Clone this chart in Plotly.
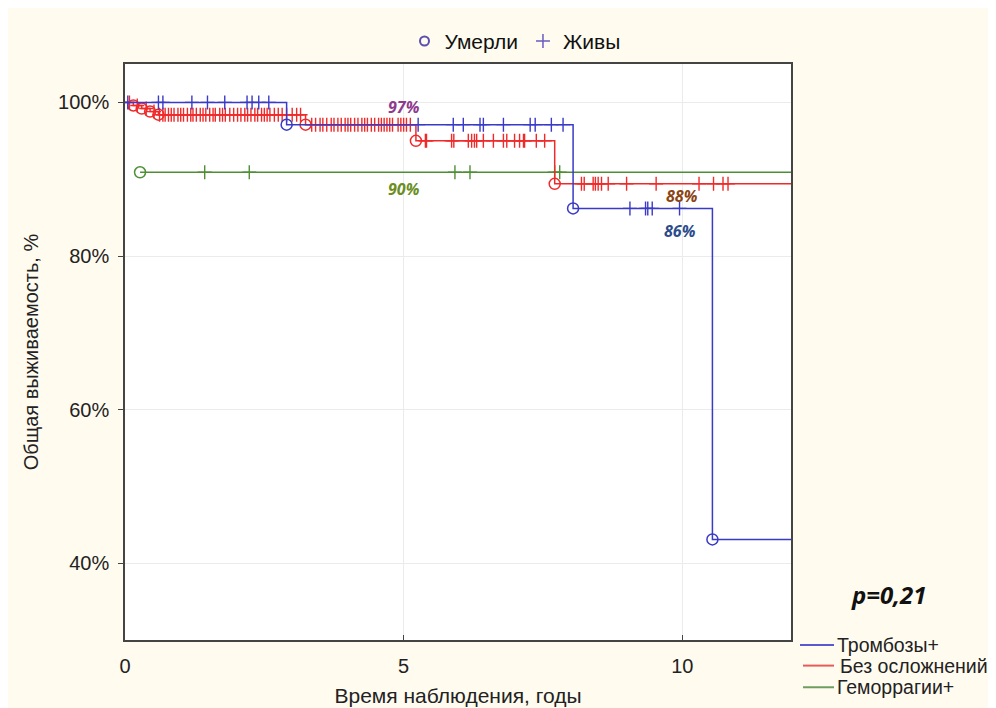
import plotly.graph_objects as go

X_END = 11.95

# ---- Тромбозы+ ----
thr_event_t = [2.90, 8.04, 10.54]
thr_event_s = [97.1, 86.2, 43.1]
thr_cens_t = [0.05, 0.60, 0.68, 1.20, 1.48, 1.79, 2.19, 2.28, 2.40, 2.58,
              5.26, 5.89, 6.07, 6.37, 6.43, 6.79, 7.27, 7.36, 7.65, 7.86,
              9.06, 9.34, 9.38, 9.46, 9.95]

# ---- Без осложнений ----
noc_event_t = [0.15, 0.30, 0.45, 0.60, 3.24, 5.22, 7.71]
noc_event_s = [99.6, 99.2, 98.8, 98.4, 97.1, 95.0, 89.4]
noc_cens_t = [0.08, 0.22, 0.38, 0.52,
              0.62, 0.68, 0.72, 0.78, 0.83, 0.88, 0.95, 1.00, 1.05, 1.12, 1.18,
              1.22, 1.28, 1.35, 1.40, 1.45, 1.52, 1.58, 1.62, 1.70, 1.75, 1.80,
              1.88, 1.95, 2.02, 2.08, 2.15, 2.20, 2.26, 2.33, 2.38, 2.45, 2.50,
              2.55, 2.60, 2.68, 2.75, 2.82, 2.90, 3.00, 3.08, 3.15,
              3.35, 3.42, 3.50, 3.55, 3.62, 3.70, 3.75, 3.82, 3.88, 3.95, 4.00,
              4.05, 4.12, 4.18, 4.25, 4.30, 4.35, 4.42, 4.48, 4.55, 4.60, 4.65,
              4.70, 4.75, 4.80, 4.90, 4.95, 5.00, 5.05, 5.12,
              5.39, 5.41, 5.86, 5.90, 6.16, 6.22, 6.27, 6.31, 6.43, 6.61, 6.79,
              6.85, 6.99, 7.08, 7.15, 7.17, 7.38, 7.53,
              8.19, 8.24, 8.40, 8.44, 8.49, 8.55, 8.67, 9.00, 9.53, 10.30,
              10.56, 10.73, 10.82]

# ---- Геморрагии+ ----
hem_event_t = [0.27]
hem_event_s = [90.9]
hem_cens_t = [1.43, 2.23, 5.92, 6.19, 7.71, 7.80]

series_names = ["Тромбозы+", "Без осложнений", "Геморрагии+"]
y_ticks = [40, 60, 80, 100]
y_tick_text = ["40%", "60%", "80%", "100%"]
x_ticks = [0, 5, 10]

BLUE = "#3A3AC8"
RED = "#F02A2A"
GREEN = "#4E8F35"
LEGEND_COLORS = ["#5A5AD0", "#E85A5A", "#6E9E5E"]

# plot-area geometry (pixels) used to place the external legend/labels
L, R, T, B = 117, 783, 56, 641
W, H = R - L, B - T


def px_x(px):
    return (px - L) / W


def px_y(py):
    return (B - py) / H


def surv_at(t, ev_t, ev_s, start):
    s = start
    for et, es in zip(ev_t, ev_s):
        if t >= et:
            s = es
    return s


def add_km(fig, name, ev_t, ev_s, cens_t, color, start_from_event=False):
    if start_from_event:
        xs = list(ev_t) + [X_END]
        ys = list(ev_s) + [ev_s[-1]]
        start = ev_s[0]
    else:
        xs = [0] + list(ev_t) + [X_END]
        ys = [100] + list(ev_s) + [ev_s[-1]]
        start = 100
    fig.add_trace(go.Scatter(x=xs, y=ys, mode="lines", name=name, line=dict(color=color, width=1.5, shape="hv"),
                             showlegend=False, hoverinfo="skip"))
    fig.add_trace(go.Scatter(x=ev_t, y=ev_s, mode="markers",
                             marker=dict(symbol="circle-open", size=11, color=color, line=dict(width=1.5, color=color)),
                             showlegend=False, hoverinfo="skip"))
    cy = [surv_at(t, ev_t, ev_s, start) for t in cens_t]
    fig.add_trace(go.Scatter(x=cens_t, y=cy, mode="markers",
                             marker=dict(symbol="cross-thin", size=10, color=color, line=dict(width=1.4, color=color)),
                             showlegend=False, hoverinfo="skip"))


fig = go.Figure()
add_km(fig, series_names[2], hem_event_t, hem_event_s, hem_cens_t, GREEN, start_from_event=True)
add_km(fig, series_names[1], noc_event_t, noc_event_s, noc_cens_t, RED)
add_km(fig, series_names[0], thr_event_t, thr_event_s, thr_cens_t, BLUE)

# bottom-right key (line samples + labels)
key_rows = [(646, 792, 828, series_names[0]), (667, 795, 831, series_names[1]), (689, 795, 828, series_names[2])]
for (py, x0, tx, lab), col in zip(key_rows, LEGEND_COLORS):
    fig.add_shape(type="line", xref="paper", yref="paper", x0=px_x(x0), x1=px_x(826), y0=px_y(py), y1=px_y(py),
                  line=dict(color=col, width=2))
    fig.add_annotation(x=px_x(tx), y=px_y(py), xref="paper", yref="paper", text=lab, showarrow=False,
                       xanchor="left", yanchor="middle", borderpad=0,
                       font=dict(size=19.5, color="#222"))

# top legend (symbols)
fig.add_trace(go.Scatter(x=[None], y=[None], mode="markers", name="Умерли", legend="legend2",
                         marker=dict(symbol="circle-open", size=9, color="#5B4FB0", line=dict(width=2, color="#5B4FB0"))))
fig.add_trace(go.Scatter(x=[None], y=[None], mode="markers", name="Живы", legend="legend2",
                         marker=dict(symbol="cross-thin", size=10, color="#6A5CC0", line=dict(width=1.5, color="#6A5CC0"))))

ann_font = "Open Sans"
annotations = [
    dict(x=5.0, y=99.4, text="<b><i>97%</i></b>", color="#8E3A8E"),
    dict(x=5.0, y=88.7, text="<b><i>90%</i></b>", color="#6B8E23"),
    dict(x=10.0, y=87.8, text="<b><i>88%</i></b>", color="#8B4513"),
    dict(x=9.95, y=83.3, text="<b><i>86%</i></b>", color="#2B4C8C"),
]
for a in annotations:
    fig.add_annotation(x=a["x"], y=a["y"], xref="x", yref="y", text=a["text"], showarrow=False,
                       xanchor="center", yanchor="middle",
                       font=dict(family=ann_font, size=16, color=a["color"]))

fig.add_annotation(x=px_x(881), y=px_y(595), xref="paper", yref="paper",
                   text="<b><i>p=0,21</i></b>", showarrow=False, xanchor="center", yanchor="middle",
                   font=dict(family=ann_font, size=24, color="#111"))

fig.update_layout(
    width=996, height=708,
    margin=dict(l=L, r=996 - R, t=T, b=708 - B),
    paper_bgcolor="#FFFBEF",
    plot_bgcolor="#FFFFFF",
    font=dict(family="Arial, Liberation Sans, sans-serif", size=20, color="#222"),
    showlegend=True,
    legend2=dict(orientation="h", x=px_x(507), y=px_y(33), xanchor="center", yanchor="middle",
                 bgcolor="rgba(0,0,0,0)", font=dict(size=21, color="#111")),
    xaxis=dict(range=[0, X_END], tickvals=x_ticks, showgrid=True, gridcolor="#EBEBEB", gridwidth=1,
               showline=True, linecolor="#444", linewidth=1.5, mirror=True, ticks="inside", ticklen=5,
               tickcolor="#444", zeroline=False, ticklabelstandoff=7,
               title=dict(text="Время наблюдения, годы", standoff=13, font=dict(size=21)),
               tickfont=dict(size=20)),
    yaxis=dict(range=[30, 105], tickvals=y_ticks, ticktext=y_tick_text, showgrid=True, gridcolor="#EBEBEB",
               gridwidth=1, showline=True, linecolor="#444", linewidth=1.5, mirror=True, ticks="outside",
               ticklen=5, tickcolor="#444", zeroline=False, ticklabelstandoff=5,
               title=dict(text="Общая выживаемость, %", standoff=14, font=dict(size=20)),
               tickfont=dict(size=20)),
)

fig.write_html("out.html")
